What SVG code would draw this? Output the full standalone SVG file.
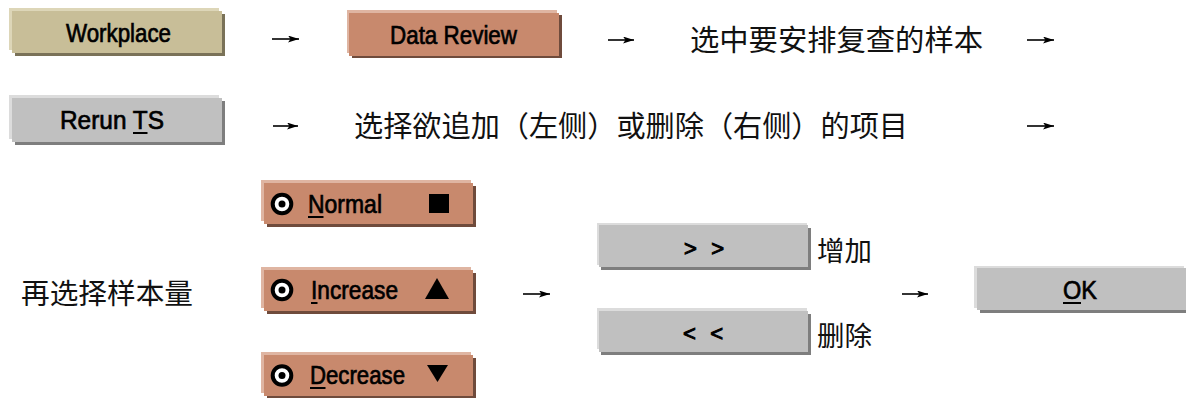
<svg xmlns="http://www.w3.org/2000/svg" width="1186" height="398" viewBox="0 0 1186 398">
<defs>
<style>
.lbl{font-family:"Liberation Sans Narrow","Liberation Sans",Arial,sans-serif;font-size:26px;fill:#000;stroke:#000;stroke-width:0.7px;text-anchor:middle}
.cjk{font-family:"Noto Sans CJK SC","Noto Sans CJK TC",sans-serif;font-size:29px;fill:#111}
.ul{fill:#000}
.khaki .l{fill:#DDD6B8}.khaki .s{fill:#7A7258}.khaki .m{fill:#C8BE98}
.rust .l{fill:#DFB5A2}.rust .s{fill:#6F4B3C}.rust .m{fill:#C8896D}
.grey .l{fill:#DCDCDC}.grey .s{fill:#7E7E7E}.grey .m{fill:#C0C0C0}
.arrow{stroke:#000;stroke-width:1.6;fill:none;marker-end:url(#ah)}
.radio{fill:#fff;stroke:#000;stroke-width:4}
</style>
<marker id="ah" viewBox="0 0 11 7" refX="11" refY="3.5" markerWidth="11" markerHeight="7" markerUnits="userSpaceOnUse" orient="auto">
<path d="M0,0 L11,3.5 L0,7 L2.5,3.5 Z" fill="#000"/>
</marker>
</defs>
<rect width="1186" height="398" fill="#fff"/>

<g id="workplace" class="khaki">
<rect class="s" x="15" y="14" width="210" height="42"/>
<rect class="l" x="9" y="8" width="210" height="42"/>
<rect class="m" x="12" y="11" width="210" height="42"/>
<text class="lbl" x="118.5" y="41.5" textLength="105" lengthAdjust="spacingAndGlyphs">Workplace</text>
</g>

<g id="data-review" class="rust">
<rect class="s" x="352" y="15" width="210" height="43"/>
<rect class="l" x="347" y="10" width="210" height="43"/>
<rect class="m" x="349" y="13" width="210" height="43"/>
<text class="lbl" x="453.5" y="44" textLength="127" lengthAdjust="spacingAndGlyphs">Data Review</text>
</g>

<g id="select-samples">
<text class="cjk" x="690" y="51" textLength="293" lengthAdjust="spacingAndGlyphs">选中要安排复查的样本</text>
</g>

<g id="rerun-ts" class="grey">
<rect class="s" x="15" y="101" width="210" height="44"/>
<rect class="l" x="9" y="95" width="210" height="44"/>
<rect class="m" x="12" y="98" width="210" height="44"/>
<text class="lbl" x="112" y="129" textLength="104" lengthAdjust="spacingAndGlyphs">Rerun TS</text>
<rect class="ul" x="133" y="132" width="14.5" height="2"/>
</g>

<g id="select-items">
<text class="cjk" x="354" y="137" textLength="554" lengthAdjust="spacingAndGlyphs">选择欲追加（左侧）或删除（右侧）的项目</text>
</g>

<g id="select-amount">
<text class="cjk" x="21" y="304" style="font-size:28.5px" textLength="172" lengthAdjust="spacingAndGlyphs">再选择样本量</text>
</g>

<g id="normal" class="rust">
<rect class="s" x="267" y="186" width="209" height="41"/>
<rect class="l" x="261" y="180" width="210" height="41"/>
<rect class="m" x="264" y="183" width="209" height="41"/>
<circle class="radio" cx="282" cy="204" r="9.3"/>
<circle cx="282" cy="204" r="3.5" fill="#000"/>
<text class="lbl" x="345" y="213" textLength="74" lengthAdjust="spacingAndGlyphs">Normal</text>
<rect class="ul" x="308" y="216" width="15.5" height="2"/>
<rect x="429" y="194" width="20" height="19" fill="#000"/>
</g>

<g id="increase" class="rust">
<rect class="s" x="267" y="273" width="209" height="41"/>
<rect class="l" x="261" y="267" width="210" height="41"/>
<rect class="m" x="264" y="270" width="209" height="41"/>
<circle class="radio" cx="282" cy="290" r="9.3"/>
<circle cx="282" cy="290" r="3.5" fill="#000"/>
<text class="lbl" x="354.5" y="298.5" textLength="87" lengthAdjust="spacingAndGlyphs">Increase</text>
<rect class="ul" x="311" y="302" width="6.5" height="2"/>
<polygon points="437,278 449,299 425,299" fill="#000"/>
</g>

<g id="decrease" class="rust">
<rect class="s" x="267" y="358" width="209" height="41"/>
<rect class="l" x="261" y="352" width="210" height="41"/>
<rect class="m" x="264" y="355" width="209" height="41"/>
<circle class="radio" cx="282" cy="375.5" r="9.3"/>
<circle cx="282" cy="375.5" r="3.5" fill="#000"/>
<text class="lbl" x="357.5" y="383.5" textLength="95" lengthAdjust="spacingAndGlyphs">Decrease</text>
<rect class="ul" x="310" y="387" width="15.5" height="2"/>
<polygon points="427,365 448,365 437.5,382" fill="#000"/>
</g>

<g id="add" class="grey">
<rect class="s" x="601" y="228" width="210" height="42"/>
<rect class="l" x="597" y="223" width="210" height="42"/>
<rect class="m" x="599" y="225" width="209" height="42"/>
<text class="lbl" x="704" y="256" style="font-size:22px;stroke-width:1px" textLength="40" lengthAdjust="spacing">&gt; &gt;</text>
<text class="cjk" x="817" y="261" style="font-size:27.5px" textLength="55" lengthAdjust="spacingAndGlyphs">增加</text>
</g>

<g id="remove" class="grey">
<rect class="s" x="601" y="314" width="210" height="41"/>
<rect class="l" x="597" y="308" width="210" height="41"/>
<rect class="m" x="599" y="311" width="209" height="41"/>
<text class="lbl" x="703" y="341" style="font-size:22px;stroke-width:1px" textLength="40" lengthAdjust="spacing">&lt; &lt;</text>
<text class="cjk" x="817" y="346" style="font-size:27.5px" textLength="55" lengthAdjust="spacingAndGlyphs">删除</text>
</g>

<g id="ok" class="grey">
<rect class="s" x="980" y="271" width="210" height="42"/>
<rect class="l" x="974" y="266" width="210" height="42"/>
<rect class="m" x="977" y="268" width="210" height="42"/>
<text class="lbl" x="1080" y="299" textLength="34" lengthAdjust="spacingAndGlyphs">OK</text>
<rect class="ul" x="1063" y="302" width="18" height="2"/>
</g>

<g id="connectors">
<path class="arrow" d="M272,39 H299"/>
<path class="arrow" d="M608,40 H634"/>
<path class="arrow" d="M1027,40 H1054"/>
<path class="arrow" d="M273,126 H298"/>
<path class="arrow" d="M1027,126 H1054"/>
<path class="arrow" d="M523,294 H550"/>
<path class="arrow" d="M902,294 H928"/>
</g>
</svg>
